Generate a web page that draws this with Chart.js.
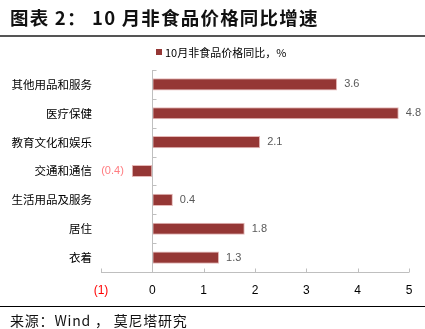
<!DOCTYPE html>
<html>
<head>
<meta charset="utf-8">
<script src="https://cdn.jsdelivr.net/npm/chart.js@4/dist/chart.umd.min.js"></script>
<style>
  html, body { margin:0; padding:0; background:#fff; }
  #wrap { position:relative; width:425px; height:329px; overflow:hidden; font-family:"Noto Sans CJK SC", sans-serif; }
  #title { position:absolute; left:10px; top:4px; font-size:18.5px; font-weight:700; color:#111; white-space:nowrap; letter-spacing:1.2px; }
  #topline { position:absolute; left:0; top:35px; width:425px; height:2px; background:#555; }
  #botline { position:absolute; left:0; top:306px; width:425px; height:1px; background:#000; }
  #source { position:absolute; left:10px; top:310px; font-size:14px; color:#111; white-space:nowrap; letter-spacing:0.8px; }
  #legend { position:absolute; left:156px; top:44px; font-size:11px; color:#000; white-space:nowrap; display:flex; align-items:center; }
  #legend i { display:inline-block; width:6px; height:6px; background:#953735; margin-right:3px; }
  #chartbox { position:absolute; left:0; top:0; width:425px; height:329px; }
</style>
</head>
<body>
<div id="wrap">
  <div id="chartbox"><canvas id="c"></canvas></div>
  <div id="title">图表 2：&nbsp;10 月非食品价格同比增速</div>
  <div id="topline"></div>
  <div id="legend"><i></i><span id="legtext"></span></div>
  <div id="botline"></div>
  <div id="source">来源：Wind ， 莫尼塔研究</div>
</div>
<script>
const categories = ["其他用品和服务", "医疗保健", "教育文化和娱乐", "交通和通信", "生活用品及服务", "居住", "衣着"];
const values = [3.6, 4.8, 2.1, -0.4, 0.4, 1.8, 1.3];
const seriesName = "10月非食品价格同比，%";
const xTicks = [-1, 0, 1, 2, 3, 4, 5];

document.getElementById('legtext').textContent = seriesName;

function fmt(v) {
  return v < 0 ? "(" + Math.abs(v) + ")" : String(v);
}

const axisPlugin = {
  id: 'axisPlugin',
  afterDatasetsDraw(chart) {
    const ctx = chart.ctx;
    const xs = chart.scales.x, ys = chart.scales.y;
    const area = chart.chartArea;
    ctx.save();
    ctx.strokeStyle = '#bfbfbf';
    ctx.lineWidth = 1;
    const x0 = Math.round(xs.getPixelForValue(0)) + 0.5;
    ctx.beginPath();
    ctx.moveTo(x0, area.top);
    ctx.lineTo(x0, area.bottom);
    ctx.stroke();
    const n = categories.length;
    for (let i = 0; i <= n; i++) {
      const y = Math.round(ys.getPixelForValue(i - 0.5)) + 0.5;
      ctx.beginPath();
      ctx.moveTo(x0, y);
      ctx.lineTo(x0 + 4, y);
      ctx.stroke();
    }
    const yb = Math.round(area.bottom) + 0.5;
    ctx.beginPath();
    ctx.moveTo(xs.getPixelForValue(xTicks[0]), yb);
    ctx.lineTo(xs.getPixelForValue(xTicks[xTicks.length - 1]), yb);
    ctx.stroke();
    xTicks.forEach(t => {
      const x = Math.round(xs.getPixelForValue(t)) + 0.5;
      ctx.beginPath();
      ctx.moveTo(x, yb);
      ctx.lineTo(x, yb - 4);
      ctx.stroke();
    });
    const meta = chart.getDatasetMeta(0);
    ctx.font = '11px "Liberation Sans", "DejaVu Sans", sans-serif';
    ctx.textBaseline = 'middle';
    meta.data.forEach((bar, i) => {
      const v = values[i];
      if (v < 0) {
        ctx.fillStyle = '#ff7c80';
        ctx.textAlign = 'right';
        ctx.fillText(fmt(v), bar.x - 8, bar.y);
      } else {
        ctx.fillStyle = '#595959';
        ctx.textAlign = 'left';
        ctx.fillText(fmt(v), bar.x + 7, bar.y);
      }
    });
    ctx.restore();
  }
};

new Chart(document.getElementById('c'), {
  type: 'bar',
  data: {
    labels: categories,
    datasets: [{
      label: seriesName,
      data: values,
      backgroundColor: '#953735',
      borderColor: '#e6b9b8',
      borderWidth: 1,
      borderSkipped: false,
      categoryPercentage: 1,
      barPercentage: 0.42
    }]
  },
  options: {
    indexAxis: 'y',
    responsive: true,
    maintainAspectRatio: false,
    animation: false,
    layout: { padding: { top: 70, right: 16, left: 0, bottom: 0 } },
    plugins: { legend: { display: false }, tooltip: { enabled: false } },
    scales: {
      x: {
        type: 'linear',
        min: -1, max: 5,
        afterBuildTicks(scale) { scale.ticks = xTicks.map(v => ({ value: v })); },
        afterFit(scale) { scale.height = 57; },
        grid: { display: false, drawTicks: false },
        border: { display: false },
        ticks: {
          padding: 11,
          font: { size: 12, family: '"Liberation Sans", "DejaVu Sans", sans-serif' },
          color: (c) => (c.tick && c.tick.value < 0 ? '#ff0000' : '#000'),
          callback: (v) => fmt(v)
        }
      },
      y: {
        afterFit(scale) { scale.width = 101; },
        grid: { display: false, drawTicks: false },
        border: { display: false },
        ticks: {
          padding: 9,
          font: { size: 11.5, family: '"Noto Sans CJK SC", sans-serif' },
          color: '#000'
        }
      }
    }
  },
  plugins: [axisPlugin]
});
</script>
</body>
</html>
